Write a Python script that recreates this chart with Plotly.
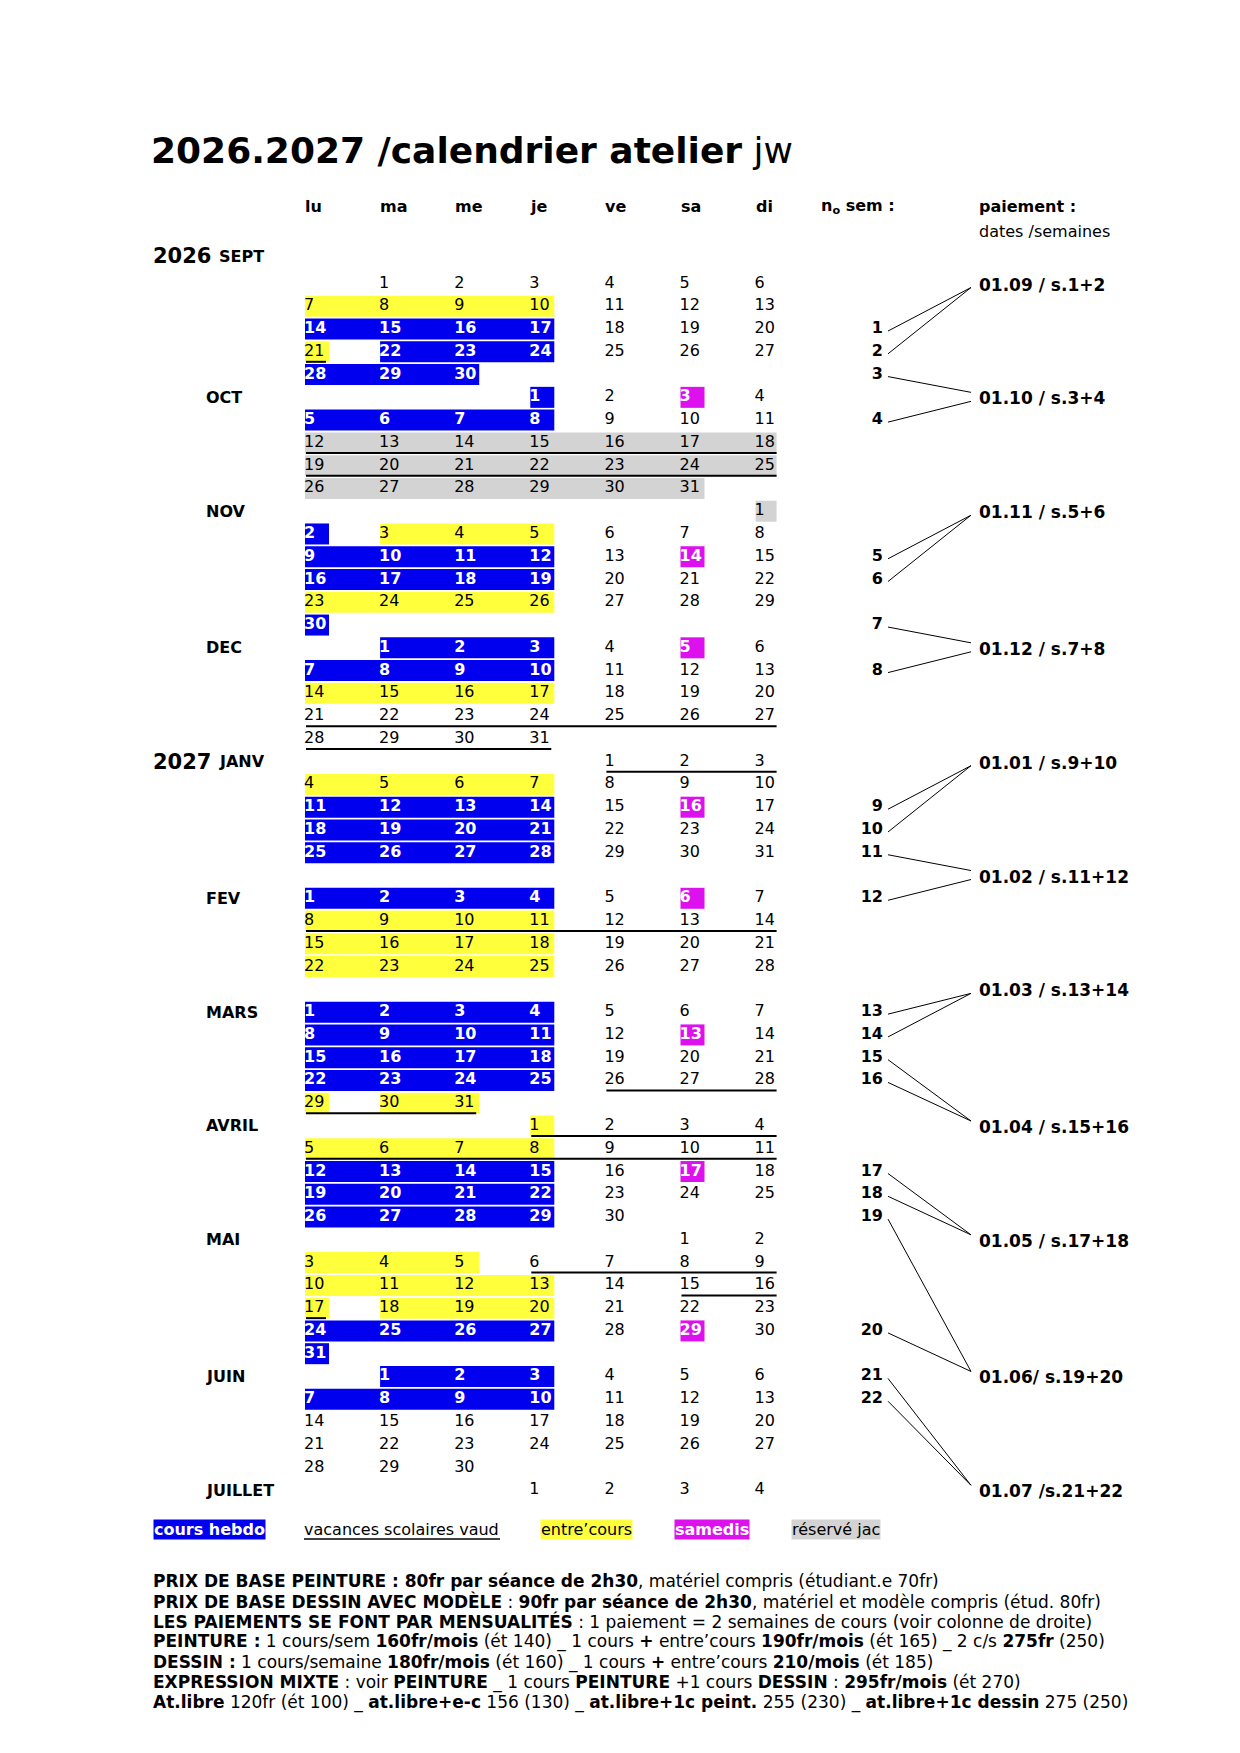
import plotly.graph_objects as go

FONT = "DejaVu Sans"

title_main = "2026.2027 /calendrier atelier"
title_tail = "jw"

weekdays = ["lu", "ma", "me", "je", "ve", "sa", "di"]

# one list per calendar line, 0 = empty cell
days = [
    [0, 1, 2, 3, 4, 5, 6],
    [7, 8, 9, 10, 11, 12, 13],
    [14, 15, 16, 17, 18, 19, 20],
    [21, 22, 23, 24, 25, 26, 27],
    [28, 29, 30, 0, 0, 0, 0],
    [0, 0, 0, 1, 2, 3, 4],
    [5, 6, 7, 8, 9, 10, 11],
    [12, 13, 14, 15, 16, 17, 18],
    [19, 20, 21, 22, 23, 24, 25],
    [26, 27, 28, 29, 30, 31, 0],
    [0, 0, 0, 0, 0, 0, 1],
    [2, 3, 4, 5, 6, 7, 8],
    [9, 10, 11, 12, 13, 14, 15],
    [16, 17, 18, 19, 20, 21, 22],
    [23, 24, 25, 26, 27, 28, 29],
    [30, 0, 0, 0, 0, 0, 0],
    [0, 1, 2, 3, 4, 5, 6],
    [7, 8, 9, 10, 11, 12, 13],
    [14, 15, 16, 17, 18, 19, 20],
    [21, 22, 23, 24, 25, 26, 27],
    [28, 29, 30, 31, 0, 0, 0],
    [0, 0, 0, 0, 1, 2, 3],
    [4, 5, 6, 7, 8, 9, 10],
    [11, 12, 13, 14, 15, 16, 17],
    [18, 19, 20, 21, 22, 23, 24],
    [25, 26, 27, 28, 29, 30, 31],
    [0, 0, 0, 0, 0, 0, 0],
    [1, 2, 3, 4, 5, 6, 7],
    [8, 9, 10, 11, 12, 13, 14],
    [15, 16, 17, 18, 19, 20, 21],
    [22, 23, 24, 25, 26, 27, 28],
    [0, 0, 0, 0, 0, 0, 0],
    [1, 2, 3, 4, 5, 6, 7],
    [8, 9, 10, 11, 12, 13, 14],
    [15, 16, 17, 18, 19, 20, 21],
    [22, 23, 24, 25, 26, 27, 28],
    [29, 30, 31, 0, 0, 0, 0],
    [0, 0, 0, 1, 2, 3, 4],
    [5, 6, 7, 8, 9, 10, 11],
    [12, 13, 14, 15, 16, 17, 18],
    [19, 20, 21, 22, 23, 24, 25],
    [26, 27, 28, 29, 30, 0, 0],
    [0, 0, 0, 0, 0, 1, 2],
    [3, 4, 5, 6, 7, 8, 9],
    [10, 11, 12, 13, 14, 15, 16],
    [17, 18, 19, 20, 21, 22, 23],
    [24, 25, 26, 27, 28, 29, 30],
    [31, 0, 0, 0, 0, 0, 0],
    [0, 1, 2, 3, 4, 5, 6],
    [7, 8, 9, 10, 11, 12, 13],
    [14, 15, 16, 17, 18, 19, 20],
    [21, 22, 23, 24, 25, 26, 27],
    [28, 29, 30, 0, 0, 0, 0],
    [0, 0, 0, 1, 2, 3, 4],
]

# B cours hebdo, Y entre'cours, M samedis, G reserve jac, | = break in the colour band
fills = [
    "", "YYYY", "BBBB", "Y|BBB", "BBB", "...B.M.", "BBBB", "GGGGGGG", "GGGGGGG", "GGGGGG",
    "......G", "B|YYY", "BBBB.M.", "BBBB", "YYYY", "B", ".BBB.M.", "BBBB", "YYYY", "",
    "", "", "YYYY", "BBBB.M.", "BBBB", "BBBB", "", "BBBB.M.", "YYYY", "YYYY",
    "YYYY", "", "BBBB", "BBBB.M.", "BBBB", "BBBB", "Y|YY", "...Y", "YYYY", "BBBB.M.",
    "BBBB", "BBBB", "", "YYY", "YYYY", "Y|YYY", "BBBB.M.", "B", ".BBB", "BBBB",
    "", "", "", "",
]

# u = vacances scolaires (underlined)
underlines = [
    "", "", "", "u", "", "", "", "uuuuuuu", "uuuuuuu", "",
    "", "", "", "", "", "", "", "", "", "uuuuuuu",
    "uuuu", "....uuu", "", "", "", "", "", "", "uuuuuuu", "",
    "", "", "", "", "", "....uuu", "uuu", "...uuuu", "uuuuuuu", "",
    "", "", "", "...uuuu", ".....uu", "u", "", "", "", "",
    "", "", "", "",
]

month_names = ["OCT", "NOV", "DEC", "FEV", "MARS", "AVRIL", "MAI", "JUIN", "JUILLET"]
month_rows = [5, 10, 16, 27, 32, 37, 42, 48, 53]

year_names = ["2026", "2027"]
year_months = ["SEPT", "JANV"]
year_rows = [-1.2, 21]

week_nums = [1, 2, 3, 4, 5, 6, 7, 8, 9, 10, 11, 12, 13, 14, 15, 16, 17, 18, 19, 20, 21, 22]
week_rows = [2, 3, 4, 6, 12, 13, 15, 17, 23, 24, 25, 27, 32, 33, 34, 35, 39, 40, 41, 46, 48, 49]

pay_labels = ["01.09 / s.1+2", "01.10 / s.3+4", "01.11 / s.5+6", "01.12 / s.7+8",
              "01.01 / s.9+10", "01.02 / s.11+12", "01.03 / s.13+14", "01.04 / s.15+16",
              "01.05 / s.17+18", "01.06/ s.19+20", "01.07 /s.21+22"]
pay_rows = [0, 5, 10, 16, 21, 26, 31, 37, 42, 48, 53]
pay_weeks = [[1, 2], [3, 4], [5, 6], [7, 8], [9, 10], [11, 12], [13, 14], [15, 16],
             [17, 18], [19, 20], [21, 22]]

legend_labels = ["cours hebdo", "vacances scolaires vaud", "entre’cours", "samedis", "réservé jac"]
legend_codes = ["B", "u", "Y", "M", "G"]

price_lines = [
    "<b>PRIX DE BASE PEINTURE : 80fr par séance de 2h30</b>, matériel compris (étudiant.e 70fr)",
    "<b>PRIX DE BASE DESSIN AVEC MODÈLE</b> : <b>90fr par séance de 2h30</b>, matériel et modèle compris (étud. 80fr)",
    "<b>LES PAIEMENTS SE FONT PAR MENSUALITÉS</b> : 1 paiement = 2 semaines de cours (voir colonne de droite)",
    "<b>PEINTURE :</b> 1 cours/sem <b>160fr/mois</b> (ét 140) _ 1 cours <b>+</b> entre’cours <b>190fr/mois</b> (ét 165) _ 2 c/s <b>275fr</b> (250)",
    "<b>DESSIN :</b> 1 cours/semaine <b>180fr/mois</b> (ét 160) _ 1 cours <b>+</b> entre’cours <b>210/mois</b> (ét 185)",
    "<b>EXPRESSION MIXTE</b> : voir <b>PEINTURE</b> _ 1 cours <b>PEINTURE</b> +1 cours <b>DESSIN</b> : <b>295fr/mois</b> (ét 270)",
    "<b>At.libre</b> 120fr (ét 100) _ <b>at.libre+e-c</b> 156 (130) _ <b>at.libre+1c peint.</b> 255 (230) _ <b>at.libre+1c dessin</b> 275 (250)",
]

colors = {"B": "#0000EE", "Y": "#FFFF3C", "M": "#DD11EE", "G": "#D3D3D3"}

# page layout (pixels, page coordinates; the html body adds an 8px margin)
PAGE_W, PAGE_H, BODY_M = 1240, 1753, 8
COL_X0, COL_STEP = 306, 75.1
ROW_Y0, ROW_STEP = 283.5, 22.77
WEEK_X, PAY_X = 883, 978


def col_x(c):
    return COL_X0 + c * COL_STEP


def row_y(r):
    return ROW_Y0 + r * ROW_STEP


def runs(code):
    cells, breaks = [], set()
    for ch in code:
        if ch == "|":
            breaks.add(len(cells))
        else:
            cells.append(ch)
    out, start = [], None
    for i, ch in enumerate(cells + ["."]):
        if start is not None and (ch != cells[start] or i in breaks):
            out.append((start, i - 1, cells[start]))
            start = None
        if ch != "." and start is None:
            start = i
    return out


fig = go.Figure()
shapes = []

# colour bands
for r, code in enumerate(fills):
    for a, b, k in runs(code):
        shapes.append(dict(type="rect", xref="x", yref="y", layer="below",
                           x0=col_x(a) - 1, x1=col_x(b) + (20 if b == 6 else 23),
                           y0=row_y(r) - 10.5, y1=row_y(r) + 10.5,
                           fillcolor=colors[k], line=dict(width=0)))

# vacances underlines
for r, code in enumerate(underlines):
    for a, b, k in runs(code):
        shapes.append(dict(type="line", xref="x", yref="y",
                           x0=col_x(a), x1=col_x(b) + 20,
                           y0=row_y(r) + 10, y1=row_y(r) + 10,
                           line=dict(color="black", width=2)))

# day numbers
plain = dict(x=[], y=[], t=[])
bold = dict(x=[], y=[], t=[])
for r, row in enumerate(days):
    code = fills[r].replace("|", "").ljust(7, ".")
    for c, d in enumerate(row):
        if d == 0:
            continue
        target = bold if code[c] in "BM" else plain
        target["x"].append(col_x(c) - 2)
        target["y"].append(row_y(r))
        target["t"].append(str(d))

fig.add_trace(go.Scatter(x=plain["x"], y=plain["y"], text=plain["t"], mode="text",
                         textposition="middle right", marker=dict(size=1),
                         textfont=dict(family=FONT, size=16, color="black"),
                         hoverinfo="skip"))
fig.add_trace(go.Scatter(x=bold["x"], y=bold["y"], text=bold["t"], mode="text",
                         textposition="middle right", marker=dict(size=1),
                         textfont=dict(family=FONT, size=16, color="white", weight="bold"),
                         hoverinfo="skip"))

# week numbers
fig.add_trace(go.Scatter(x=[WEEK_X] * len(week_nums), y=[row_y(r) for r in week_rows],
                         text=[str(w) for w in week_nums], mode="text",
                         textposition="middle left", marker=dict(size=1),
                         textfont=dict(family=FONT, size=16, color="black", weight="bold"),
                         hoverinfo="skip"))

# payment connectors
lx, ly = [], []
for lab_row, weeks in zip(pay_rows, pay_weeks):
    for w in weeks:
        wr = week_rows[week_nums.index(w)]
        end_off = 4 if wr > lab_row else -5
        lx += [WEEK_X + 5, PAY_X - 7, None]
        ly += [row_y(wr) + 2, row_y(lab_row) + end_off, None]
fig.add_trace(go.Scatter(x=lx, y=ly, mode="lines", line=dict(color="black", width=1),
                         hoverinfo="skip"))

annotations = []


def label(x, y, text, size=16, anchor="left", color="black", bg=None):
    annotations.append(dict(x=x, y=y, xref="x", yref="y", text=text, showarrow=False,
                            xanchor=anchor, yanchor="middle", bgcolor=bg, borderpad=0,
                            font=dict(family=FONT, size=size, color=color)))


label(150, 150, "<b>" + title_main + "</b> " + title_tail, size=36)

head_y = 206
for c, wd in enumerate(weekdays):
    label(col_x(c) - 2, head_y, "<b>" + wd + "</b>")
label(820, head_y, "<b>n<sub>o</sub> sem :</b>")
label(PAY_X, head_y, "<b>paiement :</b>")
label(PAY_X, 231, "dates /semaines")

for yname, mname, r in zip(year_names, year_months, year_rows):
    label(152, row_y(r), "<b>" + yname + "</b>", size=21)
    label(218, row_y(r), "<b>" + mname + "</b>", size=16)

for name, r in zip(month_names, month_rows):
    label(205, row_y(r), "<b>" + name + "</b>", size=16)

for text, r in zip(pay_labels, pay_rows):
    label(PAY_X, row_y(r) + 1, "<b>" + text + "</b>", size=17)

# legend
leg_y = 1529
leg_x = [153, 303, 540, 674, 791]
for x, text, k in zip(leg_x, legend_labels, legend_codes):
    if k in "BM":
        label(x, leg_y, "<b>" + text + "</b>", color="white", bg=colors[k])
    elif k == "u":
        label(x, leg_y, text)
        shapes.append(dict(type="line", xref="x", yref="y", x0=x + 1, x1=x + 197,
                           y0=leg_y + 10, y1=leg_y + 10, line=dict(color="black", width=1.5)))
    else:
        label(x, leg_y, text, bg=colors[k])

# price notes
for i, text in enumerate(price_lines):
    label(152, 1581 + i * 20.3, text, size=17)

fig.update_layout(
    width=PAGE_W - BODY_M, height=PAGE_H - BODY_M,
    margin=dict(l=0, r=0, t=0, b=0),
    paper_bgcolor="white", plot_bgcolor="white",
    xaxis=dict(range=[BODY_M, PAGE_W], visible=False, fixedrange=True),
    yaxis=dict(range=[PAGE_H, BODY_M], visible=False, fixedrange=True),
    showlegend=False,
    shapes=shapes,
    annotations=annotations,
)

fig.write_html("out.html")
